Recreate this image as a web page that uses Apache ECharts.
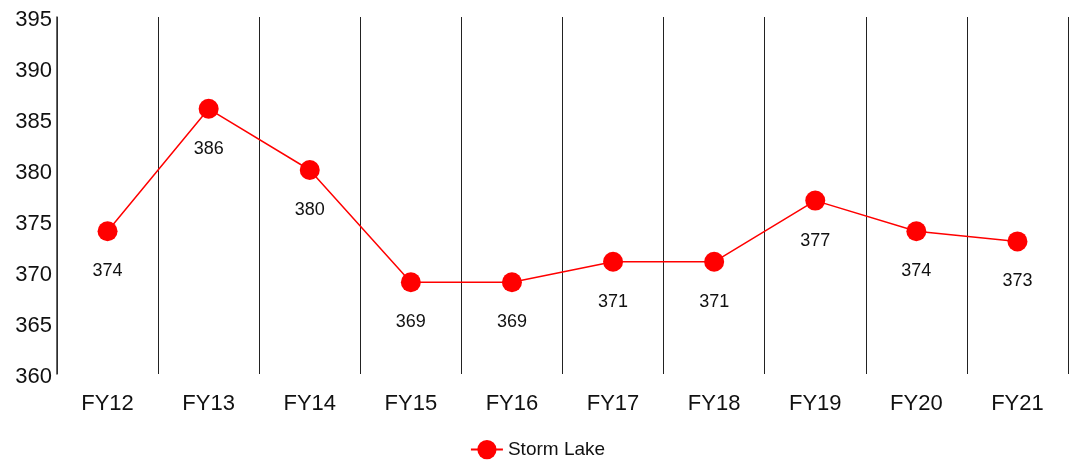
<!DOCTYPE html>
<html>
<head>
<meta charset="utf-8">
<script src="https://cdn.jsdelivr.net/npm/echarts@6/dist/echarts.min.js"></script>
<style>
html,body{margin:0;padding:0;background:#fff;}
#chart{width:1075px;height:462px;}
</style>
</head>
<body>
<div id="chart"></div>
<script>
const categories = ['FY12','FY13','FY14','FY15','FY16','FY17','FY18','FY19','FY20','FY21'];
const stormLake = [374, 386, 380, 369, 369, 371, 371, 377, 374, 373];
const seriesName = 'Storm Lake';

const FONT = '"Liberation Sans", Arial, sans-serif';
const chart = echarts.init(document.getElementById('chart'));
chart.setOption({
  animation: false,
  backgroundColor: '#ffffff',
  textStyle: { fontFamily: FONT },
  grid: { left: 57, right: 7, top: 17, bottom: 88, containLabel: false },
  legend: {
    top: 435,
    left: 'center',
    itemWidth: 32,
    itemHeight: 24,
    itemGap: 10,
    textStyle: { fontSize: 19, color: '#111', fontFamily: FONT },
    data: [seriesName]
  },
  xAxis: {
    type: 'category',
    data: categories,
    boundaryGap: true,
    axisLine: { show: false },
    axisTick: { show: false },
    axisLabel: { fontSize: 22, color: '#111', margin: 19, fontFamily: FONT },
    splitLine: { show: true, lineStyle: { color: '#222', width: 1 } }
  },
  yAxis: {
    type: 'value',
    min: 360,
    max: 395,
    interval: 5,
    axisLine: { show: true, lineStyle: { color: '#333', width: 1.5 } },
    axisTick: { show: false },
    splitLine: { show: false },
    axisLabel: {
      fontSize: 22, color: '#111', margin: 5, fontFamily: FONT,
      formatter: function (v) { return '{v|' + v + '}'; },
      rich: { v: { fontSize: 22, color: '#111', fontFamily: FONT, padding: [5, 0, 0, 0] } }
    }
  },
  series: [{
    name: seriesName,
    type: 'line',
    data: stormLake,
    symbol: 'circle',
    symbolSize: 20,
    itemStyle: { color: '#ff0000' },
    lineStyle: { color: '#ff0000', width: 1.5 },
    label: {
      show: true,
      position: 'bottom',
      distance: 21,
      fontSize: 18,
      color: '#111',
      fontFamily: FONT
    }
  }]
});
</script>
</body>
</html>
